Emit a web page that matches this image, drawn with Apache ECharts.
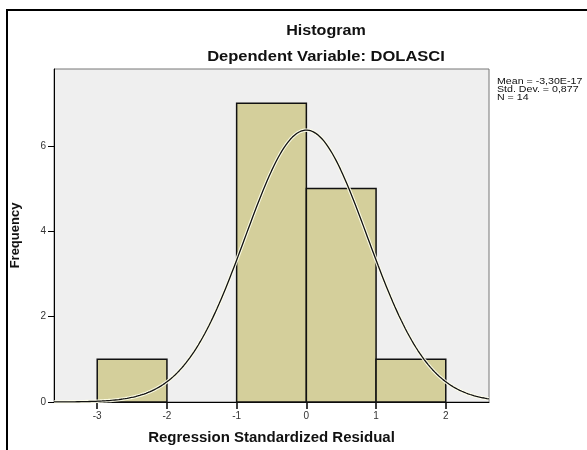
<!DOCTYPE html>
<html>
<head>
<meta charset="utf-8">
<script src="https://cdn.jsdelivr.net/npm/echarts@6/dist/echarts.min.js"></script>
<style>
  html, body { margin: 0; padding: 0; background: #fff; }
  #chart { width: 587px; height: 450px; }
</style>
</head>
<body>
<div id="chart"></div>
<script>
// histogram bins (regression standardized residual)
const binStart = [-3, -2, -1, 0, 1];
const binEnd = [-2, -1, 0, 1, 2];
const frequency = [1, 0, 7, 5, 1];

// fitted normal curve parameters (from the SPSS legend)
const meanVal = -3.30e-17;
const stdDev = 0.877;
const nObs = 14;
const binWidth = 1;

const xTicks = [-3, -2, -1, 0, 1, 2];
const yTicks = [0, 2, 4, 6];
const xMin = -3.62, xMax = 2.62;

const FONT = 'Liberation Sans';

// normal density scaled to counts
let curve = [];
for (let x = xMin; x <= xMax + 1e-9; x += 0.03) {
  const z = (x - meanVal) / stdDev;
  curve.push([x, nObs * binWidth / (stdDev * Math.sqrt(2 * Math.PI)) * Math.exp(-0.5 * z * z)]);
}

const barData = binStart.map((s, i) => [s, binEnd[i], frequency[i]]);

const chart = echarts.init(document.getElementById('chart'));

chart.setOption({
  animation: false,
  grid: {
    left: 54, top: 69, right: 98, bottom: 46,
    show: true, backgroundColor: '#efefef', borderColor: '#777', borderWidth: 1
  },
  xAxis: {
    type: 'value', min: xMin, max: xMax,
    name: 'Regression Standardized Residual', nameLocation: 'middle', nameGap: 28,
    nameTextStyle: { fontFamily: FONT, fontWeight: 'bold', fontSize: 15, color: '#111' },
    splitLine: { show: false },
    axisLine: { show: true, onZero: false, lineStyle: { color: '#000', width: 1 } },
    axisTick: { show: true, length: 7, customValues: xTicks, lineStyle: { color: '#000', width: 1.5 } },
    axisLabel: { customValues: xTicks, margin: 9, fontFamily: FONT, fontSize: 10, color: '#333' }
  },
  yAxis: {
    type: 'value', min: 0, max: 7.8,
    name: 'Frequency', nameLocation: 'middle', nameGap: 32,
    nameTextStyle: { fontFamily: FONT, fontWeight: 'bold', fontSize: 13, color: '#111' },
    splitLine: { show: false },
    axisLine: { show: true, onZero: false, lineStyle: { color: '#000', width: 1 } },
    axisTick: { show: true, length: 6, customValues: yTicks, lineStyle: { color: '#000' } },
    axisLabel: { customValues: yTicks, margin: 8, fontFamily: FONT, fontSize: 10, color: '#333' }
  },
  graphic: [
    {
      type: 'rect', silent: true, z: 100,
      shape: { x: 7, y: 10, width: 800, height: 700 },
      style: { fill: null, stroke: '#000', lineWidth: 2 }
    },
    {
      type: 'text', x: 326, y: 31, scaleX: 1.15,
      style: { text: 'Histogram', textAlign: 'center', textVerticalAlign: 'middle',
        font: 'bold 14px "Liberation Sans"', fill: '#111' }
    },
    {
      type: 'text', x: 326, y: 57, scaleX: 1.18,
      style: { text: 'Dependent Variable: DOLASCI', textAlign: 'center', textVerticalAlign: 'middle',
        font: 'bold 14px "Liberation Sans"', fill: '#111' }
    },
    {
      type: 'text', x: 497, y: 78, scaleX: 1.18,
      style: { text: 'Mean = -3,30E-17\nStd. Dev. = 0,877\nN = 14', lineHeight: 8,
        font: '9px "Liberation Sans"', fill: '#111' }
    }
  ],
  series: [
    {
      type: 'custom',
      data: barData,
      encode: { x: [0, 1], y: 2 },
      renderItem: function (params, api) {
        const p0 = api.coord([api.value(0), 0]);
        const p1 = api.coord([api.value(1), api.value(2)]);
        if (api.value(2) <= 0) return null;
        return {
          type: 'rect',
          shape: { x: p0[0], y: p1[1], width: p1[0] - p0[0], height: p0[1] - p1[1] },
          style: { fill: '#d4cf9b', stroke: '#111', lineWidth: 1.5 }
        };
      },
      z: 2
    },
    {
      type: 'line', data: curve, showSymbol: false, smooth: false, silent: true,
      lineStyle: { color: 'rgba(255,255,235,0.9)', width: 3.5 }, z: 3
    },
    {
      type: 'line', data: curve, showSymbol: false, smooth: false, silent: true,
      lineStyle: { color: '#111', width: 1.3 }, z: 4
    }
  ]
});
</script>
</body>
</html>
